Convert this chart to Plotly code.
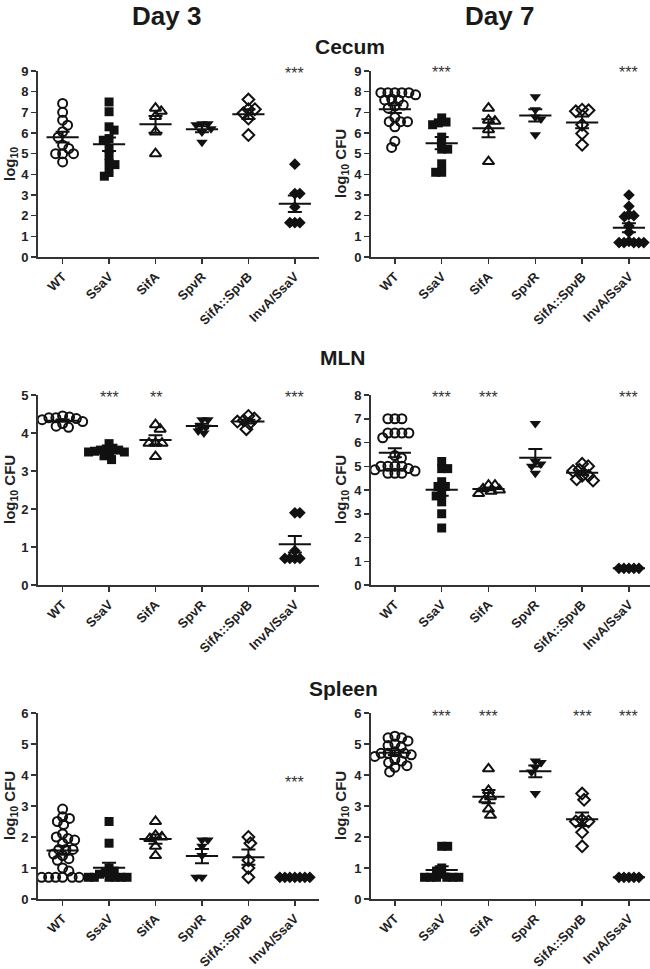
import numpy as np
import plotly.graph_objects as go

# ---------------- data ----------------
categories = ["WT", "SsaV", "SifA", "SpvR", "SifA::SpvB", "InvA/SsaV"]

cecum_d3 = [
    [7.43, 7.0, 6.62, 6.38, 6.06, 5.8, 5.41, 5.25, 5.0, 5.0, 5.0, 4.6],
    [7.5, 7.03, 6.14, 6.3, 5.73, 5.65, 5.25, 4.9, 4.52, 4.47, 4.09, 3.91],
    [7.2, 7.05, 6.8, 6.05, 5.0],
    [6.45, 6.45, 6.4, 6.2, 6.05, 5.55],
    [7.62, 7.15, 7.15, 6.95, 6.7, 5.9],
    [4.49, 3.07, 3.07, 2.42, 1.66, 1.66, 1.66],
]
cecum_d7 = [
    [7.95, 7.95, 7.95, 7.95, 7.95, 7.85, 7.65, 7.6, 7.6, 7.35, 7.3, 7.2,
     6.75, 6.55, 6.55, 6.55, 6.3, 5.6, 5.3],
    [6.73, 6.49, 6.4, 6.53, 5.8, 5.51, 5.22, 5.22, 4.51, 4.1, 4.1],
    [7.2, 6.57, 6.62, 6.16, 4.62],
    [7.75, 7.13, 6.78, 6.68, 5.92],
    [7.13, 7.05, 7.1, 6.4, 5.97, 5.43],
    [3.0, 2.45, 2.05, 2.0, 1.95, 1.5, 1.2, 0.75, 0.7, 0.7, 0.7, 0.7, 0.7],
]
mln_d3 = [
    [4.45, 4.42, 4.4, 4.4, 4.38, 4.35, 4.3, 4.28, 4.25, 4.18, 4.15],
    [3.72, 3.6, 3.58, 3.55, 3.55, 3.52, 3.5, 3.5, 3.45, 3.4, 3.3],
    [4.22, 4.1, 3.73, 3.73, 3.73, 3.38],
    [4.35, 4.35, 4.2, 4.15, 4.05, 4.0],
    [4.45, 4.38, 4.33, 4.3, 4.25, 4.1],
    [1.9, 1.9, 0.9, 0.7, 0.7, 0.7, 0.7],
]
mln_d7 = [
    [7.0, 7.0, 7.0, 6.4, 6.4, 6.4, 6.4, 6.2, 5.45, 5.35, 5.0, 5.0, 5.0, 5.0,
     4.9, 4.85, 4.8, 4.75, 4.7, 4.7, 4.7],
    [5.2, 4.9, 4.9, 4.35, 4.15, 4.15, 3.85, 3.75, 3.5, 3.0, 2.4],
    [4.2, 4.2, 4.05, 4.0, 3.95, 3.85],
    [6.8, 5.2, 5.1, 5.0, 4.7],
    [5.1, 5.0, 4.85, 4.8, 4.6, 4.6, 4.4, 4.45],
    [0.7, 0.7, 0.7, 0.7, 0.7],
]
spleen_d3 = [
    [2.9, 2.65, 2.6, 2.5, 2.4, 2.1, 2.0, 1.95, 1.9, 1.8, 1.6, 1.6, 1.6, 1.45,
     1.4, 1.3, 1.25, 1.0, 0.9, 0.7, 0.7, 0.7, 0.7, 0.7, 0.7],
    [2.5, 1.8, 1.0, 0.9, 0.85, 0.8, 0.7, 0.7, 0.7, 0.7, 0.7, 0.7],
    [2.5, 2.05, 2.0, 1.95, 1.7, 1.4],
    [1.9, 1.9, 1.7, 1.4, 0.7, 0.7],
    [2.0, 1.8, 1.25, 1.0, 0.7],
    [0.7, 0.7, 0.7, 0.7, 0.7, 0.7, 0.7],
]
spleen_d7 = [
    [5.25, 5.2, 5.2, 5.1, 5.0, 4.95, 4.9, 4.75, 4.7, 4.7, 4.7, 4.65, 4.6, 4.5,
     4.45, 4.4, 4.3, 4.25, 4.1],
    [1.7, 1.7, 1.0, 0.9, 0.8, 0.7, 0.7, 0.7, 0.7, 0.7, 0.7],
    [4.2, 3.5, 3.3, 3.2, 2.9, 2.7],
    [4.45, 4.4, 4.25, 4.1, 3.4],
    [3.4, 3.2, 2.55, 2.5, 2.5, 2.15, 1.7],
    [0.7, 0.7, 0.7, 0.7, 0.7],
]

sig_cecum_d3 = ["", "", "", "", "", "***"]
sig_cecum_d7 = ["", "***", "", "", "", "***"]
sig_mln_d3 = ["", "***", "**", "", "", "***"]
sig_mln_d7 = ["", "***", "***", "", "", "***"]
sig_spleen_d3 = ["", "", "", "", "", "***"]
sig_spleen_d7 = ["", "***", "***", "", "***", "***"]

# ---------------- style ----------------
W, H = 650, 969
FONT = "Liberation Sans"
INK = "#111111"
AXC = "#333333"
symbols = ["circle-open", "square", "triangle-up-open", "triangle-down",
           "diamond-open", "diamond"]
msizes = [9, 9, 10, 10, 9, 9]
spacing = [7, 6, 6.5, 6, 6.5, 5]

col_px = [(38, 319), (371, 650)]
col_range = [(-0.53, 5.52), (-0.51, 5.45)]
row_px = [(71, 257), (395, 585), (713, 899)]

panels = [
    # data, sig, row, col, ymax, ytitle, sig_y
    (cecum_d3, sig_cecum_d3, 0, 0, 9, "log<sub>10</sub>", 9.05),
    (cecum_d7, sig_cecum_d7, 0, 1, 9, "log<sub>10</sub> CFU", 9.12),
    (mln_d3, sig_mln_d3, 1, 0, 5, "log<sub>10</sub> CFU", 5.05),
    (mln_d7, sig_mln_d7, 1, 1, 8, "log<sub>10</sub> CFU", 8.05),
    (spleen_d3, sig_spleen_d3, 2, 0, 6, "log<sub>10</sub> CFU", 3.9),
    (spleen_d7, sig_spleen_d7, 2, 1, 6, "log<sub>10</sub> CFU", 6.03),
]


def swarm(vals, ppu_y, ppu_x, D=6.0):
    vals = np.asarray(vals, float)
    order = np.argsort(-vals, kind="stable")
    placed = []
    offs = np.zeros(len(vals))
    flip = 1
    for i in order:
        y = vals[i] * ppu_y
        iv = []
        for xj, yj in placed:
            dy = y - yj
            if abs(dy) < D:
                h = np.sqrt(D * D - dy * dy)
                iv.append((xj - h, xj + h))
        cands = [0.0] + [a for a, b in iv] + [b for a, b in iv]
        ok = [c for c in cands if all(not (a + 1e-6 < c < b - 1e-6) for a, b in iv)]
        ok.sort(key=lambda c: (round(abs(c), 3), -flip * np.sign(c)))
        best = ok[0]
        if best != 0:
            flip = -flip
        placed.append((best, y))
        offs[i] = best
    return offs / ppu_x


fig = go.Figure()
annotations = []
layout = {}

for k, (data, sig, r, c, ymax, ytitle, sig_y) in enumerate(panels, start=1):
    xa = "x" if k == 1 else f"x{k}"
    ya = "y" if k == 1 else f"y{k}"
    x0p, x1p = col_px[c]
    ytop, ybot = row_px[r]
    xr = col_range[c]
    ppu_x = (x1p - x0p) / (xr[1] - xr[0])
    ppu_y = (ybot - ytop) / ymax
    dom_y = [1 - ybot / H, 1 - ytop / H]

    for j, vals in enumerate(data):
        offs = swarm(vals, ppu_y, ppu_x, spacing[j])
        xs = j + offs
        is_open = symbols[j].endswith("open")
        fig.add_trace(go.Scatter(
            x=xs, y=vals, xaxis=xa, yaxis=ya, mode="markers", showlegend=False,
            hoverinfo="skip", cliponaxis=False,
            marker=dict(symbol=symbols[j], size=msizes[j], color=INK,
                        line=dict(width=2 if is_open else 0, color=INK))))
        v = np.asarray(vals, float)
        m = v.mean()
        sem = v.std(ddof=1) / np.sqrt(len(v))
        fig.add_trace(go.Scatter(
            x=[j], y=[m], xaxis=xa, yaxis=ya, mode="markers", showlegend=False,
            hoverinfo="skip",
            marker=dict(symbol="line-ew", size=23, color=INK,
                        line=dict(width=2, color=INK)),
            error_y=dict(type="data", array=[sem], visible=True, color=INK,
                         thickness=2, width=7)))
        if sig[j]:
            xp = (x0p + (j - xr[0]) * ppu_x) / W
            yp = dom_y[0] + (sig_y / ymax) * (dom_y[1] - dom_y[0])
            annotations.append(dict(x=xp, y=yp, xref="paper", yref="paper",
                                    text=sig[j], showarrow=False,
                                    xanchor="center", yanchor="middle", yshift=-4,
                                    font=dict(family=FONT, size=16, color=AXC)))

    tickfont = dict(family=FONT, size=13, color="#222222", weight="bold")
    layout["xaxis" if k == 1 else f"xaxis{k}"] = dict(
        domain=[x0p / W, x1p / W], range=list(xr), anchor=ya,
        tickmode="array", tickvals=list(range(len(categories))), ticktext=categories,
        tickangle=-45, ticks="outside", ticklen=5, tickwidth=1.5, tickcolor=AXC,
        showline=True, linewidth=2, linecolor=AXC, showgrid=False, zeroline=False,
        tickfont=tickfont, automargin=False, fixedrange=True)
    layout["yaxis" if k == 1 else f"yaxis{k}"] = dict(
        domain=dom_y, range=[0, ymax], anchor=xa,
        tickmode="linear", tick0=0, dtick=1, ticks="outside", ticklen=5,
        tickwidth=1.5, tickcolor=AXC, showline=True, linewidth=2, linecolor=AXC,
        showgrid=False, zeroline=False, tickfont=tickfont, automargin=False,
        fixedrange=True)
    annotations.append(dict(
        x=(10 if c == 0 else 341) / W, y=1 - (ytop + ybot) / 2 / H,
        xref="paper", yref="paper", text=ytitle, textangle=-90, showarrow=False,
        xanchor="center", yanchor="middle",
        font=dict(family=FONT, size=15, color="#222222", weight="bold")))

# titles
for txt, xp, yp, sz in [("Day 3", 166, 16, 26), ("Day 7", 499, 16, 26),
                        ("Cecum", 350, 46, 21), ("MLN", 343, 357, 21),
                        ("Spleen", 343, 688, 21)]:
    annotations.append(dict(x=xp / W, y=1 - yp / H, xref="paper", yref="paper",
                            text=txt, showarrow=False, xanchor="center",
                            yanchor="middle",
                            font=dict(family=FONT, size=sz, color="#1a1a1a",
                                      weight="bold")))

fig.update_layout(
    template="none", width=W, height=H,
    margin=dict(l=0, r=0, t=0, b=0),
    paper_bgcolor="white", plot_bgcolor="white",
    annotations=annotations, **layout)

fig.write_html(
    "out.html",
    config={"displayModeBar": False, "staticPlot": True},
    post_script="document.body.style.margin='0';document.body.style.overflow='hidden';")
